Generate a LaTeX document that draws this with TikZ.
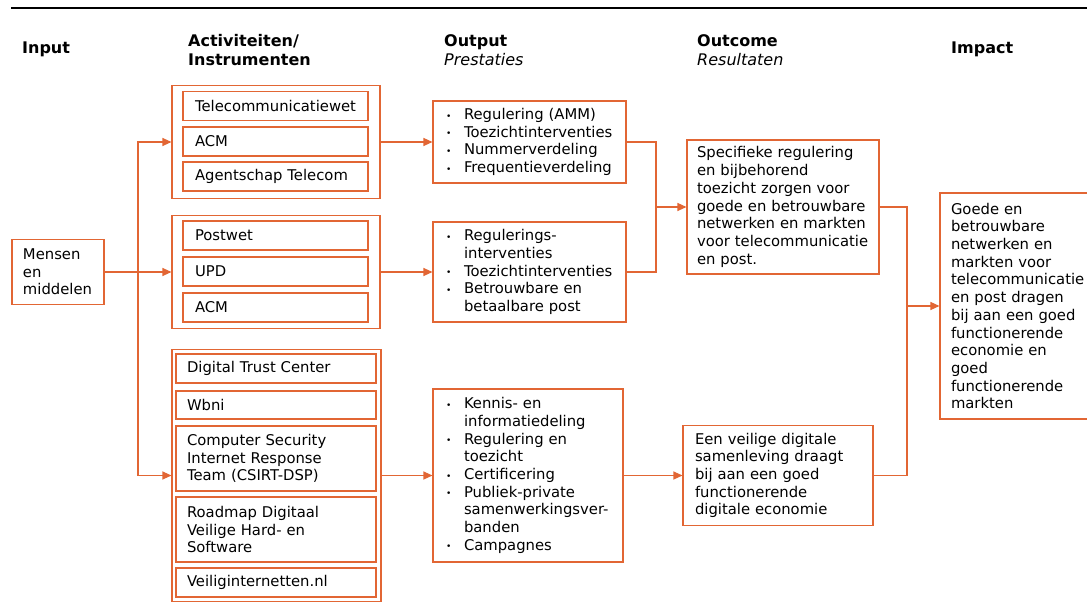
\documentclass[tikz,border=0pt]{standalone}
\usepackage{fontspec}
\setmainfont{DejaVu Sans}
\usetikzlibrary{arrows.meta}
\definecolor{oranje}{RGB}{226,102,52}
\newcommand{\bol}{\makebox[19pt][l]{\hspace{1pt}\raisebox{0.5pt}{\small •}}}
\newcommand{\inspr}{\hspace*{19pt}}

\begin{document}
\begin{tikzpicture}[x=1pt,y=-1pt]
  \tikzset{
    vak/.style={draw=oranje, line width=1.1pt, rectangle, inner ysep=0pt, align=left,
      font=\fontsize{14.8}{17.7}\selectfont},
    groep/.style={draw=oranje, line width=1.1pt, rectangle, inner sep=0pt},
    pijl/.style={draw=oranje, line width=1.2pt, -{Triangle[length=9pt,width=8pt]}},
    lijn/.style={draw=oranje, line width=1.2pt},
    kop/.style={anchor=west, align=left, inner sep=0pt,
      font=\fontsize{16}{19}\selectfont\bfseries}
  }
  \useasboundingbox (0,0) rectangle (1087,612);
  \clip (0,0) rectangle (1087,612);

  \draw[line width=1.2pt] (11,8) -- (1087,8); % Top rule

  % Headings
  \node[kop] (hIn) at (22,49) {Input};
  \node[kop] (hAct) at (188,50) {Activiteiten/\\Instrumenten};
  \node[kop] (hOut) at (444,50) {Output\\\mdseries\itshape Prestaties};
  \node[kop] (hOc) at (697,50) {Outcome\\\mdseries\itshape Resultaten};
  \node[kop] (hImp) at (951,49) {Impact};

  % Input
  \node[vak, inner xsep=11pt, text width=70pt, minimum height=65pt] (M) at (58,272) {Mensen\\en\\middelen};

  % Activiteiten: telecom
  \node[groep, minimum width=208pt, minimum height=113pt] (G1) at (276,142) {};
  \node[vak, inner xsep=12pt, text width=161pt, minimum height=29pt] (T1) at (275.5,106) {Telecommunicatiewet};
  \node[vak, inner xsep=12pt, text width=161pt, minimum height=29pt] (T2) at (275.5,141.5) {ACM};
  \node[vak, inner xsep=12pt, text width=161pt, minimum height=29pt] (T3) at (275.5,176.5) {Agentschap Telecom};

  % Activiteiten: post
  \node[groep, minimum width=208pt, minimum height=113pt] (G2) at (276,272) {};
  \node[vak, inner xsep=12pt, text width=161pt, minimum height=29pt] (P1) at (275.5,235.5) {Postwet};
  \node[vak, inner xsep=12pt, text width=161pt, minimum height=29pt] (P2) at (275.5,271.5) {UPD};
  \node[vak, inner xsep=12pt, text width=161pt, minimum height=29pt] (P3) at (275.5,307.5) {ACM};

  % Activiteiten: digitaal
  \node[groep, minimum width=209pt, minimum height=252pt] (G3) at (276.5,475.5) {};
  \node[vak, inner xsep=11pt, text width=178pt, minimum height=29pt] (D1) at (276,368.5) {Digital Trust Center};
  \node[vak, inner xsep=11pt, text width=178pt, minimum height=28pt] (D2) at (276,405) {Wbni};
  \node[vak, inner xsep=11pt, text width=178pt, minimum height=65pt] (D3) at (276,458.5) {Computer Security\\Internet Response\\Team (CSIRT-DSP)};
  \node[vak, inner xsep=11pt, text width=178pt, minimum height=65pt] (D4) at (276,529.5) {Roadmap Digitaal\\Veilige Hard- en\\Software};
  \node[vak, inner xsep=11pt, text width=178pt, minimum height=29pt] (D5) at (276,582.5) {Veiliginternetten.nl};

  % Output
  \node[vak, inner xsep=12pt, text width=169pt, minimum height=82pt] (O1) at (529.5,142)
    {\bol Regulering (AMM)\\\bol Toezichtinterventies\\\bol Nummerverdeling\\\bol Frequentieverdeling};
  \node[vak, inner xsep=12pt, text width=169pt, minimum height=100pt] (O2) at (529.5,272)
    {\bol Regulerings-\\\inspr interventies\\\bol Toezichtinterventies\\\bol Betrouwbare en\\\inspr betaalbare post};
  \node[vak, inner xsep=12pt, text width=166pt, minimum height=173pt] (O3) at (528,475.5)
    {\bol Kennis- en\\\inspr informatiedeling\\\bol Regulering en\\\inspr toezicht\\\bol Certificering\\
     \bol Publiek-private\\\inspr samenwerkingsver-\\\inspr banden\\\bol Campagnes};

  % Outcome
  \node[vak, inner xsep=10pt, text width=172pt, minimum height=134pt] (R1) at (783,207)
    {Specifieke regulering\\en bijbehorend\\toezicht zorgen voor\\goede en betrouwbare\\netwerken en markten\\voor telecommunicatie\\en post.};
  \node[vak, inner xsep=12pt, text width=166pt, minimum height=100pt] (R2) at (778,475.5)
    {Een veilige digitale\\samenleving draagt\\bij aan een goed\\functionerende\\digitale economie};

  % Impact
  \node[vak, inner xsep=11pt, text width=138pt, minimum height=226pt] (I) at (1020,306)
    {Goede en\\betrouwbare\\netwerken en\\markten voor\\telecommunicatie\\en post dragen\\bij aan een goed\\functionerende\\economie en\\goed\\functionerende\\markten};

  % Input to activiteiten
  \coordinate (S) at (138,272);
  \draw[pijl] (M.east) -- (G2.west);
  \draw[pijl] (S) |- (G1.west);
  \draw[pijl] (S) |- (G3.west);

  % Activiteiten to output
  \draw[pijl] (G1.east) -- (O1.west);
  \draw[pijl] (G2.east) -- (O2.west);
  \draw[pijl] (G3.east) -- (O3.west);

  % Output to outcome
  \coordinate (K1) at (656,207);
  \draw[lijn] (O1.east) -| (K1);
  \draw[lijn] (O2.east) -| (K1);
  \draw[pijl] (K1) -- (R1.west);
  \draw[pijl] (O3.east) -- (R2.west);

  % Outcome to impact
  \coordinate (K2) at (907,306);
  \draw[lijn] (R1.east) -| (K2);
  \draw[lijn] (R2.east) -| (K2);
  \draw[pijl] (K2) -- (I.west);
\end{tikzpicture}
\end{document}
